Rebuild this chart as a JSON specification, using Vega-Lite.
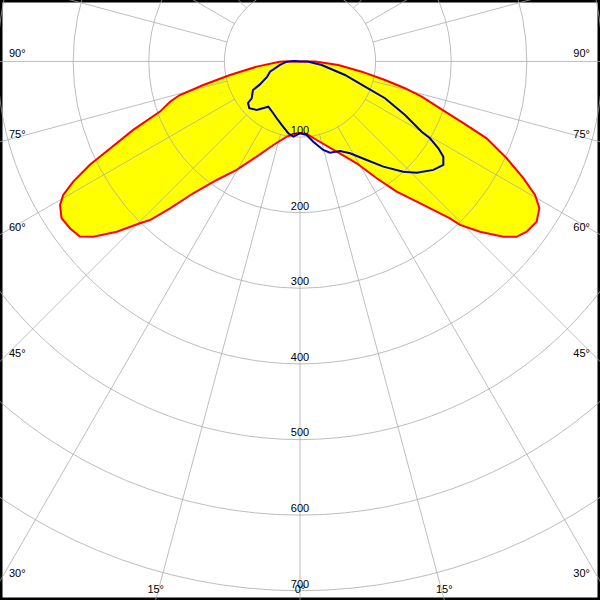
{
  "$schema": "https://vega.github.io/schema/vega-lite/v6.json",
  "width": 600,
  "height": 600,
  "padding": 0,
  "autosize": {"type": "none"},
  "background": "white",
  "config": {"view": {"stroke": "black", "strokeWidth": 5}},
  "datasets": {
    "red": [
      {"a": -95, "I": 0}, {"a": -90, "I": 22}, {"a": -89, "I": 27}, {"a": -83.2, "I": 57.7}, {"a": -79.1, "I": 94.3},
      {"a": -76.3, "I": 131.6}, {"a": -74.4, "I": 165}, {"a": -72.8, "I": 180}, {"a": -70.3, "I": 196.7},
      {"a": -67.7, "I": 238.4}, {"a": -65.4, "I": 276.3}, {"a": -63.8, "I": 309.7}, {"a": -62.1, "I": 339.4},
      {"a": -60.6, "I": 359.5}, {"a": -59.1, "I": 369.9}, {"a": -56.7, "I": 377.4}, {"a": -54.0, "I": 375.8},
      {"a": -51.5, "I": 372}, {"a": -49.7, "I": 358.4}, {"a": -47.1, "I": 330.9}, {"a": -44.7, "I": 301},
      {"a": -43.4, "I": 288.7}, {"a": -41.5, "I": 259.4}, {"a": -39.0, "I": 224.3}, {"a": -35.1, "I": 191.6},
      {"a": -30.3, "I": 166.2}, {"a": -24.5, "I": 138.3}, {"a": -17.7, "I": 116}, {"a": -10.0, "I": 101},
      {"a": -2.6, "I": 95.1}, {"a": 0, "I": 94.6}, {"a": 5.3, "I": 96.3}, {"a": 12.0, "I": 106.2},
      {"a": 22.1, "I": 128.8}, {"a": 29.1, "I": 154.1}, {"a": 33.3, "I": 184.8}, {"a": 36.6, "I": 214.5},
      {"a": 39.8, "I": 241.3}, {"a": 42.3, "I": 268.6}, {"a": 43.7, "I": 287}, {"a": 44.4, "I": 302.6},
      {"a": 46.6, "I": 327.7}, {"a": 49.25, "I": 355}, {"a": 51.0, "I": 368.6}, {"a": 53.1, "I": 375},
      {"a": 55.9, "I": 378}, {"a": 58.5, "I": 371.3}, {"a": 60.4, "I": 357.5}, {"a": 62.4, "I": 333.3},
      {"a": 64.9, "I": 301.9}, {"a": 67.6, "I": 267}, {"a": 69.3, "I": 231}, {"a": 71.5, "I": 195.3},
      {"a": 73.9, "I": 167.6}, {"a": 75.7, "I": 143.3}, {"a": 77.7, "I": 115}, {"a": 80.6, "I": 82.7},
      {"a": 84.8, "I": 50.9}, {"a": 90, "I": 20}, {"a": 95, "I": 0}
    ],
    "blue": [
      {"a": -120, "I": 0}, {"a": -95, "I": 8}, {"a": -89, "I": 17.6}, {"a": -80.1, "I": 26.9}, {"a": -71.2, "I": 41.9},
      {"a": -64.8, "I": 48.2}, {"a": -60, "I": 62}, {"a": -58.8, "I": 72.7}, {"a": -52.7, "I": 80.3},
      {"a": -51.4, "I": 88}, {"a": -47.3, "I": 91.3}, {"a": -41.8, "I": 86}, {"a": -35.0, "I": 73},
      {"a": -27.3, "I": 77.1}, {"a": -22.3, "I": 81.2}, {"a": -16.1, "I": 87.4}, {"a": -9.3, "I": 96.2},
      {"a": -5.1, "I": 99.9}, {"a": 0, "I": 95}, {"a": 5.2, "I": 97.6}, {"a": 9.4, "I": 107.5},
      {"a": 14.7, "I": 121}, {"a": 18.2, "I": 127}, {"a": 24.1, "I": 129.7}, {"a": 28.6, "I": 138.3},
      {"a": 34.1, "I": 157.4}, {"a": 38.4, "I": 177.5}, {"a": 43.1, "I": 199.8}, {"a": 46.4, "I": 213.2},
      {"a": 50.9, "I": 227.4}, {"a": 54.2, "I": 233.8}, {"a": 56.4, "I": 227.6}, {"a": 57.9, "I": 216},
      {"a": 59.4, "I": 199.7}, {"a": 60.0, "I": 185.8}, {"a": 63.0, "I": 155.9}, {"a": 66.6, "I": 122.5},
      {"a": 68.8, "I": 92.2}, {"a": 73.3, "I": 62.1}, {"a": 80.8, "I": 29.1}, {"a": 90, "I": 10}, {"a": 100, "I": 0}
    ],
    "rings": [{"I": 100}, {"I": 200}, {"I": 300}, {"I": 400}, {"I": 500}, {"I": 600}, {"I": 700}],
    "spokes": [
      {"a": 0}, {"a": 15}, {"a": 30}, {"a": 45}, {"a": 60}, {"a": 75}, {"a": 90}, {"a": 105},
      {"a": 120}, {"a": 135}, {"a": 150}, {"a": 165}, {"a": 180}, {"a": 195}, {"a": 210}, {"a": 225},
      {"a": 240}, {"a": 255}, {"a": 270}, {"a": 285}, {"a": 300}, {"a": 315}, {"a": 330}, {"a": 345}
    ],
    "sideLabels": [
      {"label": "90°", "a": 90}, {"label": "75°", "a": 75}, {"label": "60°", "a": 60},
      {"label": "45°", "a": 45}, {"label": "30°", "a": 30}
    ],
    "bottomLabels": [
      {"label": "15°", "a": -15}, {"label": "0°", "a": 0}, {"label": "15°", "a": 15}
    ]
  },
  "layer": [
    {
      "data": {"name": "red"},
      "transform": [
        {"calculate": "datum.I*sin(datum.a*PI/180)", "as": "x"},
        {"calculate": "-datum.I*cos(datum.a*PI/180)", "as": "y"}
      ],
      "mark": {"type": "line", "fill": "#ffff00", "stroke": null, "strokeWidth": 0, "clip": true},
      "encoding": {
        "x": {"field": "x", "type": "quantitative", "scale": {"domain": [-396.8, 396.8], "nice": false, "zero": false}, "axis": null},
        "y": {"field": "y", "type": "quantitative", "scale": {"domain": [-712.3, 81.3], "nice": false, "zero": false}, "axis": null},
        "order": {"field": "a", "type": "quantitative"}
      }
    },
    {
      "data": {"name": "rings"},
      "mark": {"type": "point", "shape": "circle", "filled": false, "stroke": "#a8a8a8", "strokeWidth": 1, "opacity": 0.75, "clip": true},
      "encoding": {
        "x": {"datum": 0, "type": "quantitative"},
        "y": {"datum": 0, "type": "quantitative"},
        "size": {"field": "I", "type": "quantitative", "scale": {"type": "pow", "exponent": 2, "domain": [0, 700], "range": [0, 1120352]}, "legend": null}
      }
    },
    {
      "data": {"name": "spokes"},
      "transform": [
        {"calculate": "100*sin(datum.a*PI/180)", "as": "x1"},
        {"calculate": "-100*cos(datum.a*PI/180)", "as": "y1"},
        {"calculate": "1200*sin(datum.a*PI/180)", "as": "x2"},
        {"calculate": "-1200*cos(datum.a*PI/180)", "as": "y2"}
      ],
      "mark": {"type": "rule", "stroke": "#a8a8a8", "strokeWidth": 1, "opacity": 0.75, "clip": true},
      "encoding": {
        "x": {"field": "x1", "type": "quantitative"},
        "y": {"field": "y1", "type": "quantitative"},
        "x2": {"field": "x2"},
        "y2": {"field": "y2"}
      }
    },
    {
      "data": {"name": "red"},
      "transform": [
        {"calculate": "datum.I*sin(datum.a*PI/180)", "as": "x"},
        {"calculate": "-datum.I*cos(datum.a*PI/180)", "as": "y"}
      ],
      "mark": {"type": "line", "stroke": "#ff0000", "strokeWidth": 2, "clip": true},
      "encoding": {
        "x": {"field": "x", "type": "quantitative"},
        "y": {"field": "y", "type": "quantitative"},
        "order": {"field": "a", "type": "quantitative"}
      }
    },
    {
      "data": {"name": "blue"},
      "transform": [
        {"calculate": "datum.I*sin(datum.a*PI/180)", "as": "x"},
        {"calculate": "-datum.I*cos(datum.a*PI/180)", "as": "y"}
      ],
      "mark": {"type": "line", "stroke": "#0000a8", "strokeWidth": 2, "clip": true},
      "encoding": {
        "x": {"field": "x", "type": "quantitative"},
        "y": {"field": "y", "type": "quantitative"},
        "order": {"field": "a", "type": "quantitative"}
      }
    },
    {
      "data": {"name": "rings"},
      "transform": [{"calculate": "-datum.I", "as": "y"}],
      "mark": {"type": "text", "font": "Liberation Sans", "fontSize": 11, "fill": "#000000", "align": "center", "baseline": "alphabetic", "dy": -3},
      "encoding": {
        "x": {"datum": 0, "type": "quantitative"},
        "y": {"field": "y", "type": "quantitative"},
        "text": {"field": "I", "type": "nominal"}
      }
    },
    {
      "data": {"name": "sideLabels"},
      "transform": [
        {"calculate": "-396.8", "as": "x"},
        {"calculate": "-396.8*cos(datum.a*PI/180)/sin(datum.a*PI/180)", "as": "y"}
      ],
      "mark": {"type": "text", "font": "Liberation Sans", "fontSize": 11, "fill": "#000000", "align": "left", "baseline": "alphabetic", "dx": 9, "dy": -4},
      "encoding": {
        "x": {"field": "x", "type": "quantitative"},
        "y": {"field": "y", "type": "quantitative"},
        "text": {"field": "label", "type": "nominal"}
      }
    },
    {
      "data": {"name": "sideLabels"},
      "transform": [
        {"calculate": "396.8", "as": "x"},
        {"calculate": "-396.8*cos(datum.a*PI/180)/sin(datum.a*PI/180)", "as": "y"}
      ],
      "mark": {"type": "text", "font": "Liberation Sans", "fontSize": 11, "fill": "#000000", "align": "right", "baseline": "alphabetic", "dx": -10, "dy": -4},
      "encoding": {
        "x": {"field": "x", "type": "quantitative"},
        "y": {"field": "y", "type": "quantitative"},
        "text": {"field": "label", "type": "nominal"}
      }
    },
    {
      "data": {"name": "bottomLabels"},
      "transform": [
        {"calculate": "712.3*tan(datum.a*PI/180)", "as": "x"},
        {"calculate": "-712.3", "as": "y"}
      ],
      "mark": {"type": "text", "font": "Liberation Sans", "fontSize": 11, "fill": "#000000", "align": "center", "baseline": "alphabetic", "dy": -7},
      "encoding": {
        "x": {"field": "x", "type": "quantitative"},
        "y": {"field": "y", "type": "quantitative"},
        "text": {"field": "label", "type": "nominal"}
      }
    }
  ]
}
